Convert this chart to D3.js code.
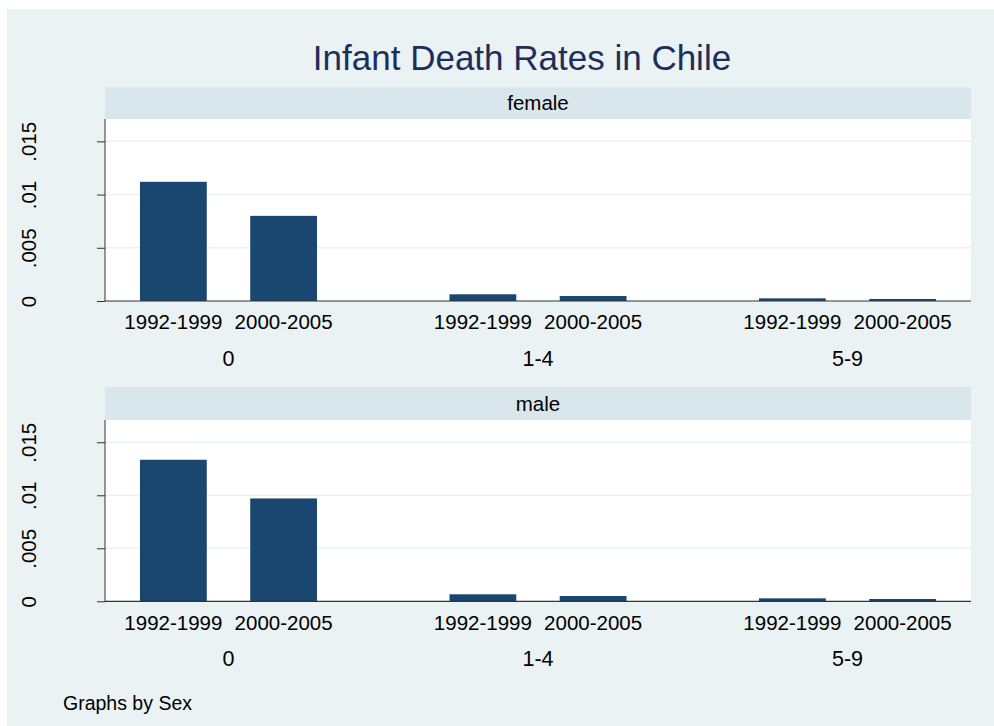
<!DOCTYPE html>
<html>
<head>
<meta charset="utf-8">
<script src="https://cdn.jsdelivr.net/npm/d3@7"></script>
<style>
  body { margin: 0; background: #ffffff; }
  svg { display: block; font-family: "Liberation Sans", Arial, sans-serif; }
</style>
</head>
<body>
<div id="chart"></div>
<script>
// Chart data
var sexes = ["female", "male"];
var ageGroups = ["0", "1-4", "5-9"];
var periods = ["1992-1999", "2000-2005"];
// rates by age group, then period
var femaleRates = [0.0112, 0.0080, 0.00063, 0.00047, 0.00025, 0.00019];
var maleRates = [0.01335, 0.0097, 0.00066, 0.0005, 0.00028, 0.00022];
var yTicks = [0, 0.005, 0.01, 0.015];
var yTickLabels = ["0", ".005", ".01", ".015"];

var width = 994, height = 726;

var svg = d3.select("#chart").append("svg")
    .attr("width", width)
    .attr("height", height);

// graph region background
svg.append("rect")
    .attr("x", 7).attr("y", 9)
    .attr("width", width - 7).attr("height", height - 9)
    .attr("fill", "#eaf2f3");

svg.append("text")
    .attr("x", 522).attr("y", 70)
    .attr("text-anchor", "middle")
    .attr("font-size", 35)
    .attr("fill", "#1e2e5a")
    .text("Infant Death Rates in Chile");

var left = 105, right = 971;

// outer scale for age groups, inner for periods
var x0 = d3.scaleBand()
    .domain(ageGroups)
    .range([left, right])
    .paddingInner(0.428)
    .paddingOuter(0.113);

var x1 = d3.scaleBand()
    .domain(periods)
    .range([0, x0.bandwidth()])
    .paddingInner(0.394);

var panels = [
    {label: sexes[0], rates: femaleRates, stripTop: 87.7, top: 119, bottom: 301},
    {label: sexes[1], rates: maleRates, stripTop: 387, top: 420, bottom: 601.3}
];

panels.forEach(function(p) {
    var g = svg.append("g");

    // strip
    g.append("rect")
        .attr("x", left).attr("y", p.stripTop)
        .attr("width", right - left).attr("height", p.top - p.stripTop)
        .attr("fill", "#d9e6eb");
    g.append("text")
        .attr("x", (left + right) / 2).attr("y", p.top - 9)
        .attr("text-anchor", "middle")
        .attr("font-size", 20.5)
        .attr("fill", "#000")
        .text(p.label);

    // plot region
    g.append("rect")
        .attr("x", left).attr("y", p.top)
        .attr("width", right - left).attr("height", p.bottom - p.top)
        .attr("fill", "#ffffff");

    var y = d3.scaleLinear()
        .domain([0, 0.0171])
        .range([p.bottom, p.top]);

    // grid lines
    g.selectAll(".grid")
        .data(yTicks.slice(1))
        .join("line")
        .attr("class", "grid")
        .attr("x1", left).attr("x2", right)
        .attr("y1", d => y(d)).attr("y2", d => y(d))
        .attr("stroke", "#eaf2f3")
        .attr("stroke-width", 1.5);

    // bars
    var data = [];
    ageGroups.forEach(function(a, i) {
        periods.forEach(function(per, j) {
            data.push({age: a, period: per, value: p.rates[i * periods.length + j]});
        });
    });

    g.selectAll(".bar")
        .data(data)
        .join("rect")
        .attr("class", "bar")
        .attr("x", d => x0(d.age) + x1(d.period))
        .attr("width", x1.bandwidth())
        .attr("y", d => y(d.value))
        .attr("height", d => y(0) - y(d.value))
        .attr("fill", "#1a476f");

    // y axis
    var yAxis = g.append("g")
        .attr("transform", "translate(" + left + ",0)")
        .call(d3.axisLeft(y)
            .tickValues(yTicks)
            .tickSize(8)
            .tickFormat((d, i) => yTickLabels[i]));
    yAxis.select(".domain")
        .attr("d", "M0," + p.top + "V" + p.bottom)
        .attr("stroke", "#333");
    yAxis.selectAll(".tick line").attr("stroke", "#333");
    yAxis.selectAll(".tick text")
        .attr("x", 0).attr("dy", 0)
        .attr("transform", "translate(-69,0) rotate(-90)")
        .attr("text-anchor", "middle")
        .attr("font-size", 20.5)
        .attr("font-family", "Liberation Sans, Arial, sans-serif")
        .attr("fill", "#000");

    // x axis line
    g.append("line")
        .attr("x1", left).attr("x2", right)
        .attr("y1", p.bottom).attr("y2", p.bottom)
        .attr("stroke", "#333")
        .attr("stroke-width", 1.2);

    // period labels
    g.selectAll(".plabel")
        .data(data)
        .join("text")
        .attr("class", "plabel")
        .attr("x", d => x0(d.age) + x1(d.period) + x1.bandwidth() / 2)
        .attr("y", p.bottom + 28.3)
        .attr("text-anchor", "middle")
        .attr("font-size", 20.5)
        .attr("fill", "#000")
        .text(d => d.period);

    // age group labels
    g.selectAll(".alabel")
        .data(ageGroups)
        .join("text")
        .attr("class", "alabel")
        .attr("x", d => x0(d) + x0.bandwidth() / 2)
        .attr("y", p.bottom + 64.5)
        .attr("text-anchor", "middle")
        .attr("font-size", 21.5)
        .attr("fill", "#000")
        .text(d => d);
});

svg.append("text")
    .attr("x", 63).attr("y", 710)
    .attr("font-size", 19.5)
    .attr("fill", "#000")
    .text("Graphs by Sex");
</script>
</body>
</html>
